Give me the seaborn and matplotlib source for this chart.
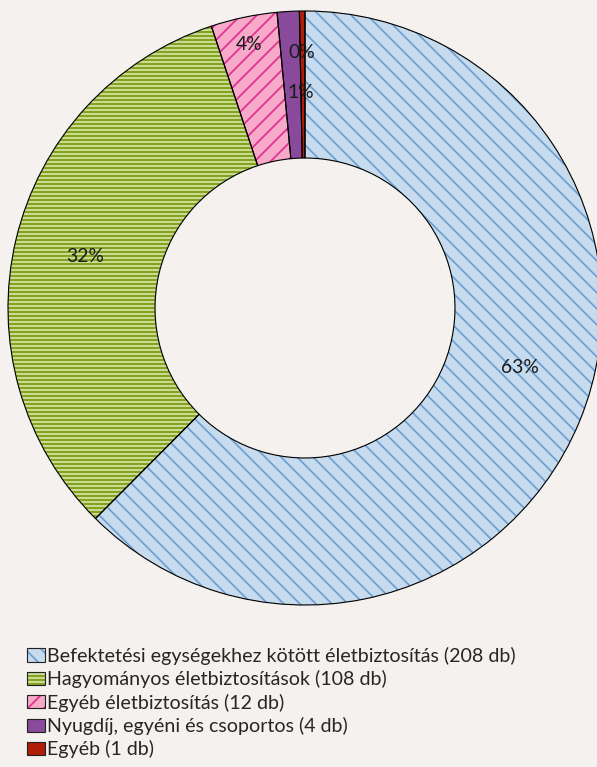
import matplotlib
matplotlib.use("Agg")
import matplotlib.pyplot as plt
import matplotlib.patches as mpatches
from matplotlib.legend_handler import HandlerTuple
import numpy as np
import seaborn as sns

# data
categories = ['Befektetési egységekhez kötött életbiztosítás (208 db)',
              'Hagyományos életbiztosítások (108 db)',
              'Egyéb életbiztosítás (12 db)',
              'Nyugdíj, egyéni és csoportos (4 db)',
              'Egyéb (1 db)']
counts = [208, 108, 12, 4, 1]
pct_labels = ['63%', '32%', '4%', '1%', '0%']

face_colors = ['#c6dbee', '#86a31f', '#f7a9c9', '#8a4a9b', '#b01e0a']
hatch_colors = ['#6e9fd0', '#d4e3a6', '#e0318b', '#8a4a9b', '#b01e0a']
hatches = ['\\\\', '----', '//', '', '']
label_r = [0.75, 0.76, 0.905, 0.725, 0.86]
label_shift = [7, 0, 0, -2, 0.2]   # degrees, excel nudges some labels

DPI = 96
bg = '#f4f1ee'
sns.set_theme(style='white', rc={'figure.facecolor': bg, 'axes.facecolor': bg,
                                 'hatch.linewidth': 1.3})
plt.rcParams['font.family'] = ['Lato', 'DejaVu Sans']

fig = plt.figure(figsize=(597 / DPI, 767 / DPI), dpi=DPI)
ax = fig.add_axes([8 / 597, 162 / 767, 594 / 597, 594 / 767])
ax.set_axis_off()

ring = 0.495
# fill layer
ax.pie(counts, colors=face_colors, startangle=90, counterclock=False,
       wedgeprops=dict(width=ring, edgecolor='none', linewidth=0))
# hatch layer
hw, _ = ax.pie(counts, colors=['none'] * 5, startangle=90, counterclock=False,
               wedgeprops=dict(width=ring, linewidth=0))
for w, h, hc in zip(hw, hatches, hatch_colors):
    w.set_edgecolor(hc)
    w.set_hatch(h)
# outline layer
ow, _ = ax.pie(counts, startangle=90, counterclock=False,
               wedgeprops=dict(width=ring, fill=False, edgecolor='black', linewidth=0.85))

ax.set_xlim(-1, 1)
ax.set_ylim(-1, 1)
ax.set_aspect('auto')

for w, lab, r, s in zip(ow, pct_labels, label_r, label_shift):
    mid = np.deg2rad((w.theta1 + w.theta2) / 2 + s)
    ax.text(r * np.cos(mid), r * np.sin(mid), lab, ha='center', va='center',
            fontsize=14.4, color='#1a1a1a')

handles = []
for fc, hc, h in zip(face_colors, hatch_colors, hatches):
    p1 = mpatches.Patch(facecolor=fc, edgecolor=hc, hatch=h, linewidth=0)
    p2 = mpatches.Patch(facecolor='none', edgecolor='#222222', linewidth=0.85)
    handles.append((p1, p2))

fig.legend(handles, categories, handler_map={tuple: HandlerTuple(ndivide=1, pad=0)},
           loc='upper left', bbox_to_anchor=(19 / 597, 1 - 639 / 767),
           frameon=False, fontsize=14.7, handlelength=0.95, handleheight=0.65,
           handletextpad=0.1, labelspacing=0.27, borderaxespad=0)

fig.savefig('out.png', dpi=DPI, facecolor=bg)
